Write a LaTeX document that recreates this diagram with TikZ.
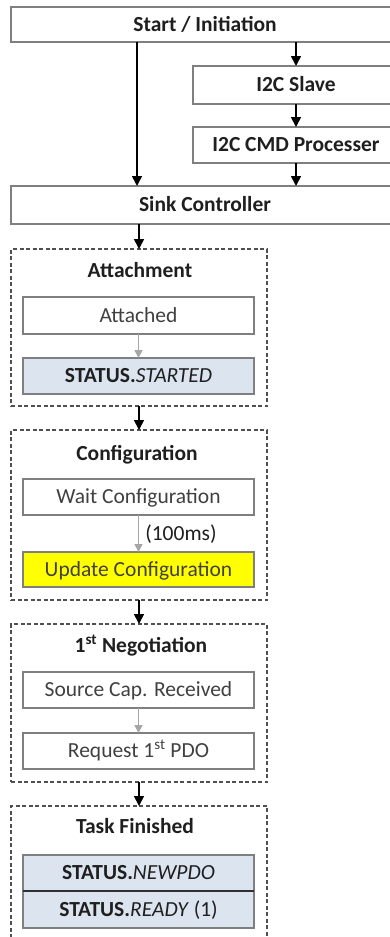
\documentclass[tikz,border=0pt]{standalone}
\usepackage{fontspec}
\setmainfont{Carlito}
\usetikzlibrary{arrows.meta}
\definecolor{boxline}{HTML}{7F7F7F}
\definecolor{dashline}{HTML}{505050}
\definecolor{statusfill}{HTML}{DCE4EF}
\definecolor{txt}{HTML}{1F1F1F}
\definecolor{graytxt}{HTML}{404040}
\definecolor{grayarrow}{HTML}{A6A6A6}
\definecolor{yel}{HTML}{FFFF00}
\definecolor{divider}{HTML}{303030}
\begin{document}
\begin{tikzpicture}[x=1pt,y=-1pt,
  font=\fontsize{21.5}{25}\selectfont,
  box/.style={draw=boxline, line width=1.5pt, fill=white, inner sep=0pt, outer sep=0pt,
    text height=15pt, text depth=2pt, align=center},
  topbox/.style={box, font=\fontsize{21.5}{25}\selectfont\bfseries, text=txt},
  inbox/.style={box, minimum width=231pt, text=graytxt},
  group/.style={draw=dashline, dash pattern=on 4pt off 2.5pt, line width=1.2pt,
    minimum width=256pt, inner sep=0pt, outer sep=0pt},
  title/.style={anchor=base, font=\fontsize{21.5}{25}\selectfont\bfseries, text=txt, inner sep=0pt},
  flow/.style={-{Triangle[width=10pt,length=10pt]}, line width=1.7pt, black},
  subflow/.style={-{Triangle[width=8pt,length=8pt]}, line width=1.6pt, grayarrow},
]
\useasboundingbox (0,0) rectangle (390,937);
\fill[white] (0,0) rectangle (390,937);
\clip (0,0) rectangle (390,937);

% top part
\node[topbox, minimum width=388pt, minimum height=35pt] (start) at (205,24.5) {Start / Initiation};
\node[topbox, minimum width=206pt, minimum height=38pt] (slave) at (296,85) {I2C Slave};
\node[topbox, minimum width=206pt, minimum height=36pt] (cmd) at (296,145) {I2C CMD Processer};
\node[topbox, minimum width=388pt, minimum height=38pt] (sink) at (205,205) {Sink Controller};

% groups
\node[group, minimum height=157pt] (attach) at (139,327.5) {};
\node[group, minimum height=170pt] (config) at (139,515) {};
\node[group, minimum height=158pt] (nego) at (139,703) {};
\node[group, minimum height=140pt] (task) at (139,876) {};

% titles
\node[title] (attachT) at (140,277) {Attachment};
\node[title] (configT) at (137,460) {Configuration};
\node[title] (negoT) at (141,652) {1\textsuperscript{st} Negotiation};
\node[title] (taskT) at (135,833) {Task Finished};

% inner boxes
\node[inbox, minimum height=37pt] (attached) at (138.5,315.5) {Attached};
\node[inbox, minimum height=36pt, fill=statusfill, text=txt] (started) at (138.5,376) {\textbf{STATUS.}\textit{STARTED}};
\node[inbox, minimum height=36pt] (wait) at (138.5,497) {Wait Configuration};
\node[inbox, minimum height=35pt, fill=yel, text=graytxt] (update) at (138.5,569.5) {Update Configuration};
\node[inbox, minimum height=36pt] (source) at (138.5,690) {Source Cap. Received};
\node[inbox, minimum height=36pt] (request) at (138.5,751) {Request 1\textsuperscript{st} PDO};
\node[inbox, minimum height=36pt, fill=statusfill, text=txt] (newpdo) at (138.5,873) {\textbf{STATUS.}\textit{NEWPDO}};
\node[inbox, minimum height=37pt, fill=statusfill, text=txt] (ready) at (138.5,909.5) {\textbf{STATUS.}\textit{READY} (1)};
\draw[divider, line width=1.5pt] (newpdo.south west) -- (newpdo.south east);

% connectors
\coordinate (lx) at (137,0);
\draw[flow] (start.south -| lx) -- (sink.north -| lx);
\draw[flow] (start.south -| slave) -- (slave.north);
\draw[flow] (slave.south) -- (cmd.north);
\draw[flow] (cmd.south) -- (sink.north -| cmd);
\draw[flow] (sink.south -| attach) -- (attach.north);
\draw[flow] (attach.south) -- (config.north);
\draw[flow] (config.south) -- (nego.north);
\draw[flow] (nego.south) -- (task.north);

\draw[subflow] (attached.south) -- (started.north);
\draw[subflow] (wait.south) -- (update.north)
  node[midway, anchor=west, xshift=6pt, text=txt, inner sep=0pt, text height=15pt, text depth=2pt] (delay) {(100ms)};
\draw[subflow] (source.south) -- (request.north);
\end{tikzpicture}
\end{document}
